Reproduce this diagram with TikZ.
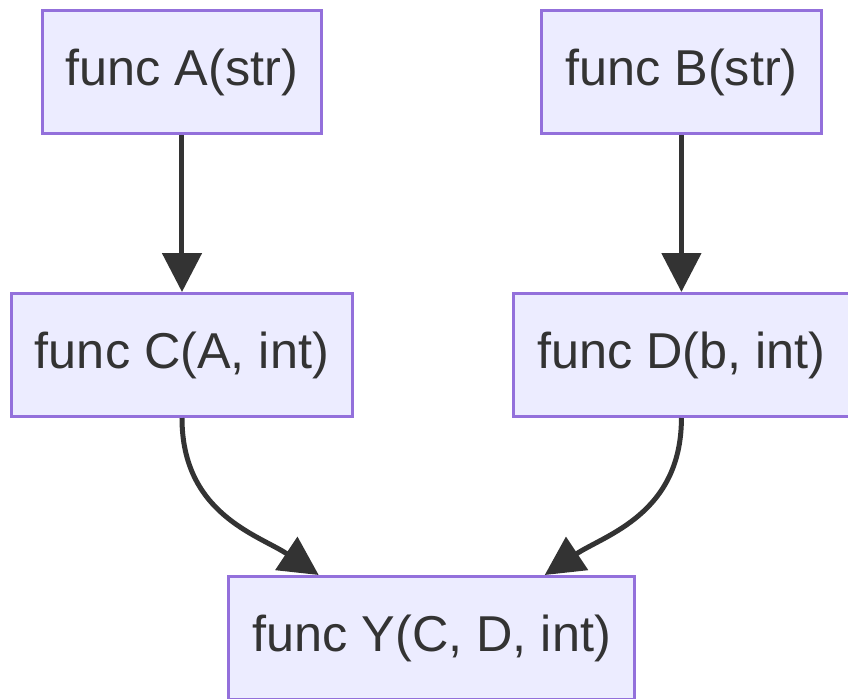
\documentclass[tikz,border=0pt]{standalone}
\usepackage{fontspec}
\setmainfont{Liberation Sans}
\usepackage{xcolor}
\usetikzlibrary{positioning, arrows.meta, calc}

\definecolor{boxfill}{HTML}{ECECFF}
\definecolor{boxline}{HTML}{9370DB}
\definecolor{ink}{HTML}{333333}

\begin{document}
\begin{tikzpicture}[
        node distance=78.5pt and 108.5pt,
        fn/.style={rectangle, draw=boxline, fill=boxfill, line width=1.5pt, minimum height=61.5pt, inner xsep=11.75pt, text=ink, font=\fontsize{25.2}{30}\selectfont},
        arrow/.style={-{Triangle[width=19.5pt, length=19.5pt]}, line width=2.5pt, draw=ink}
    ]
        \useasboundingbox (-91pt,36pt) rectangle (333pt,-313pt);

        % Functions
        \node (A) [fn] {func A(str)};
        \node (B) [fn, right=of A] {func B(str)};
        \node (C) [fn, below=of A] {func C(A, int)};
        \node (D) [fn, below=of B] {func D(b, int)};
        \coordinate (mid) at ($(C.south)!0.5!(D.south)$);
        \node (Y) [fn, below=78.5pt of mid, anchor=north] {func Y(C, D, int)};

        % Arrows
        \draw [arrow] (A) -- (C);
        \draw [arrow] (B) -- (D);
        \draw [arrow] (C.south) .. controls +(0,-48pt) and +(-30pt,20pt) .. ([xshift=-56.5pt]Y.north);
        \draw [arrow] (D.south) .. controls +(0,-48pt) and +(30pt,20pt) .. ([xshift=56.5pt]Y.north);
    \end{tikzpicture}
\end{document}
